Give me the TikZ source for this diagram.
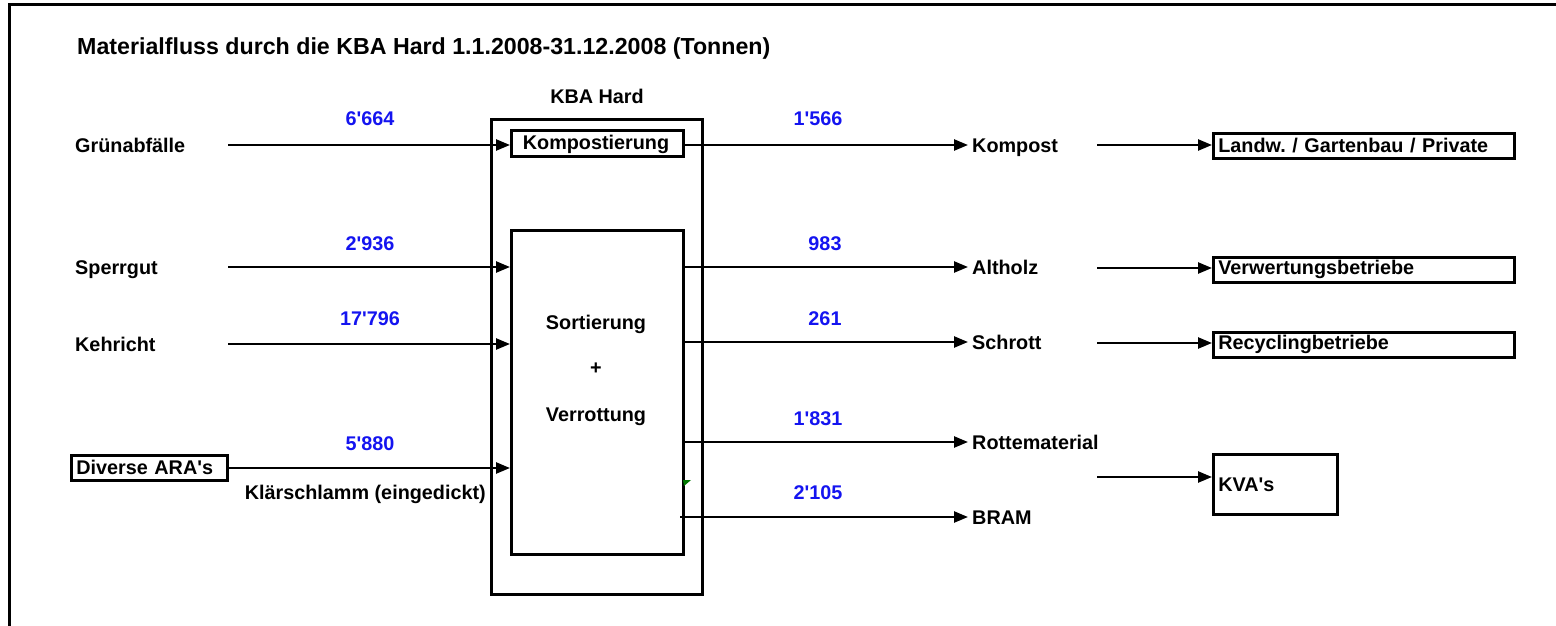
\documentclass[tikz,border=0pt]{standalone}
\usepackage{fontspec}
\setmainfont{Liberation Sans}
\usetikzlibrary{arrows.meta}
\definecolor{numblue}{RGB}{20,20,240}
\definecolor{markgreen}{RGB}{0,120,0}
\newcommand{\aps}{\textquotesingle}
\frenchspacing
\tikzset{
  lab/.style={font=\bfseries\fontsize{19.8}{22}\selectfont, inner sep=0pt},
  num/.style={lab, text=numblue},
  flow/.style={line width=2.5pt, -{Triangle[length=14pt,width=11pt]}},
  boxframe/.style={draw, line width=2.8pt, inner sep=0pt},
  rbox/.style={draw, line width=2.6pt, lab, inner xsep=5pt, inner ysep=0pt, align=left, anchor=north west}
}
\begin{document}
\begin{tikzpicture}[x=1pt,y=-1pt]
\useasboundingbox (0,0) rectangle (1556,626);
% frame
\coordinate (fr1) at (9,626);
\coordinate (fr2) at (9,5);
\coordinate (fr3) at (1556,5);
\draw[line width=3pt] (fr1) -- (fr2) -- (fr3);
% title
\node[lab, anchor=base west, font=\bfseries\fontsize{23.2}{27}\selectfont] (title) at (77,55) {Materialfluss durch die KBA Hard 1.1.2008-31.12.2008 (Tonnen)};
% KBA
\node[lab, anchor=base] (kbalab) at (597,103) {KBA Hard};
\node[boxframe, anchor=north west, minimum width=211pt, minimum height=475pt] (kba) at (490,118) {};
\node[boxframe, anchor=north west, minimum width=172pt, minimum height=26pt] (komp) at (510,129) {};
\node[lab, anchor=base] (kompt) at (596,149) {Kompostierung};
\node[boxframe, anchor=north west, minimum width=172pt, minimum height=324pt] (sort) at (510,229) {};
\node[lab, anchor=base] (sort1) at (596,329) {Sortierung};
\node[lab, anchor=base] (sort2) at (596,374) {+};
\node[lab, anchor=base] (sort3) at (596,421) {Verrottung};
% inputs
\node[lab, anchor=base west] (gruen) at (75,152) {Grünabfälle};
\node[lab, anchor=base west] (sperr) at (75,274) {Sperrgut};
\node[lab, anchor=base west] (kehr) at (75,351) {Kehricht};
\node[rbox, minimum width=156pt, minimum height=25pt, text width=146pt] (ara) at (70,454) {Diverse ARA\aps s};
\coordinate (in1) at (228,145);
\coordinate (in2) at (228,267);
\coordinate (in3) at (228,344);
\coordinate (in4) at (226,468);
\draw[flow] (in1) -- (in1 -| komp.west);
\draw[flow] (in2) -- (in2 -| sort.west);
\draw[flow] (in3) -- (in3 -| sort.west);
\draw[flow] (in4) -- (in4 -| sort.west);
\node[num, anchor=base] (n1) at (370,125) {6\aps 664};
\node[num, anchor=base] (n2) at (370,250) {2\aps 936};
\node[num, anchor=base] (n3) at (370,325) {17\aps 796};
\node[num, anchor=base] (n4) at (370,450) {5\aps 880};
\node[lab, anchor=base east] (klaer) at (486,499) {Klärschlamm (eingedickt)};
% outputs
\node[lab, anchor=base west] (kompost) at (972,152) {Kompost};
\node[lab, anchor=base west] (altholz) at (972,274) {Altholz};
\node[lab, anchor=base west] (schrott) at (972,349) {Schrott};
\node[lab, anchor=base west] (rotte) at (972,449) {Rottematerial};
\node[lab, anchor=base west] (bram) at (972,524) {BRAM};
\coordinate (out1) at (682,145);
\coordinate (out2) at (682,267);
\coordinate (out3) at (682,342);
\coordinate (out4) at (682,442);
\coordinate (out5) at (680,517);
\draw[flow] (out1) -- ([xshift=-4pt]out1 -| kompost.west);
\draw[flow] (out2) -- ([xshift=-4pt]out2 -| altholz.west);
\draw[flow] (out3) -- ([xshift=-4pt]out3 -| schrott.west);
\draw[flow] (out4) -- ([xshift=-4pt]out4 -| rotte.west);
\draw[flow] (out5) -- ([xshift=-4pt]out5 -| bram.west);
\node[num, anchor=base] (m1) at (818,125) {1\aps 566};
\node[num, anchor=base] (m2) at (825,250) {983};
\node[num, anchor=base] (m3) at (825,325) {261};
\node[num, anchor=base] (m4) at (818,425) {1\aps 831};
\node[num, anchor=base] (m5) at (818,499) {2\aps 105};
% green mark
\fill[markgreen] (683,480) -- (691,480) -- (684,486) -- cycle;
% destinations
\node[rbox, minimum width=301pt, minimum height=25pt, text width=291pt] (landw) at (1212,132) {Landw. / Gartenbau / Private};
\node[rbox, minimum width=301pt, minimum height=25pt, text width=291pt] (verw) at (1212,256) {Verwertungsbetriebe};
\node[rbox, minimum width=301pt, minimum height=25pt, text width=291pt] (recy) at (1212,331) {Recyclingbetriebe};
\node[rbox, minimum width=124pt, minimum height=60pt, text width=114pt] (kva) at (1212,453) {KVA\aps s};
\coordinate (d1) at (1097,145);
\coordinate (d2) at (1097,268);
\coordinate (d3) at (1097,343);
\coordinate (d4) at (1097,477);
\draw[flow] (d1) -- (d1 -| landw.west);
\draw[flow] (d2) -- (d2 -| verw.west);
\draw[flow] (d3) -- (d3 -| recy.west);
\draw[flow] (d4) -- (d4 -| kva.west);
\end{tikzpicture}
\end{document}
